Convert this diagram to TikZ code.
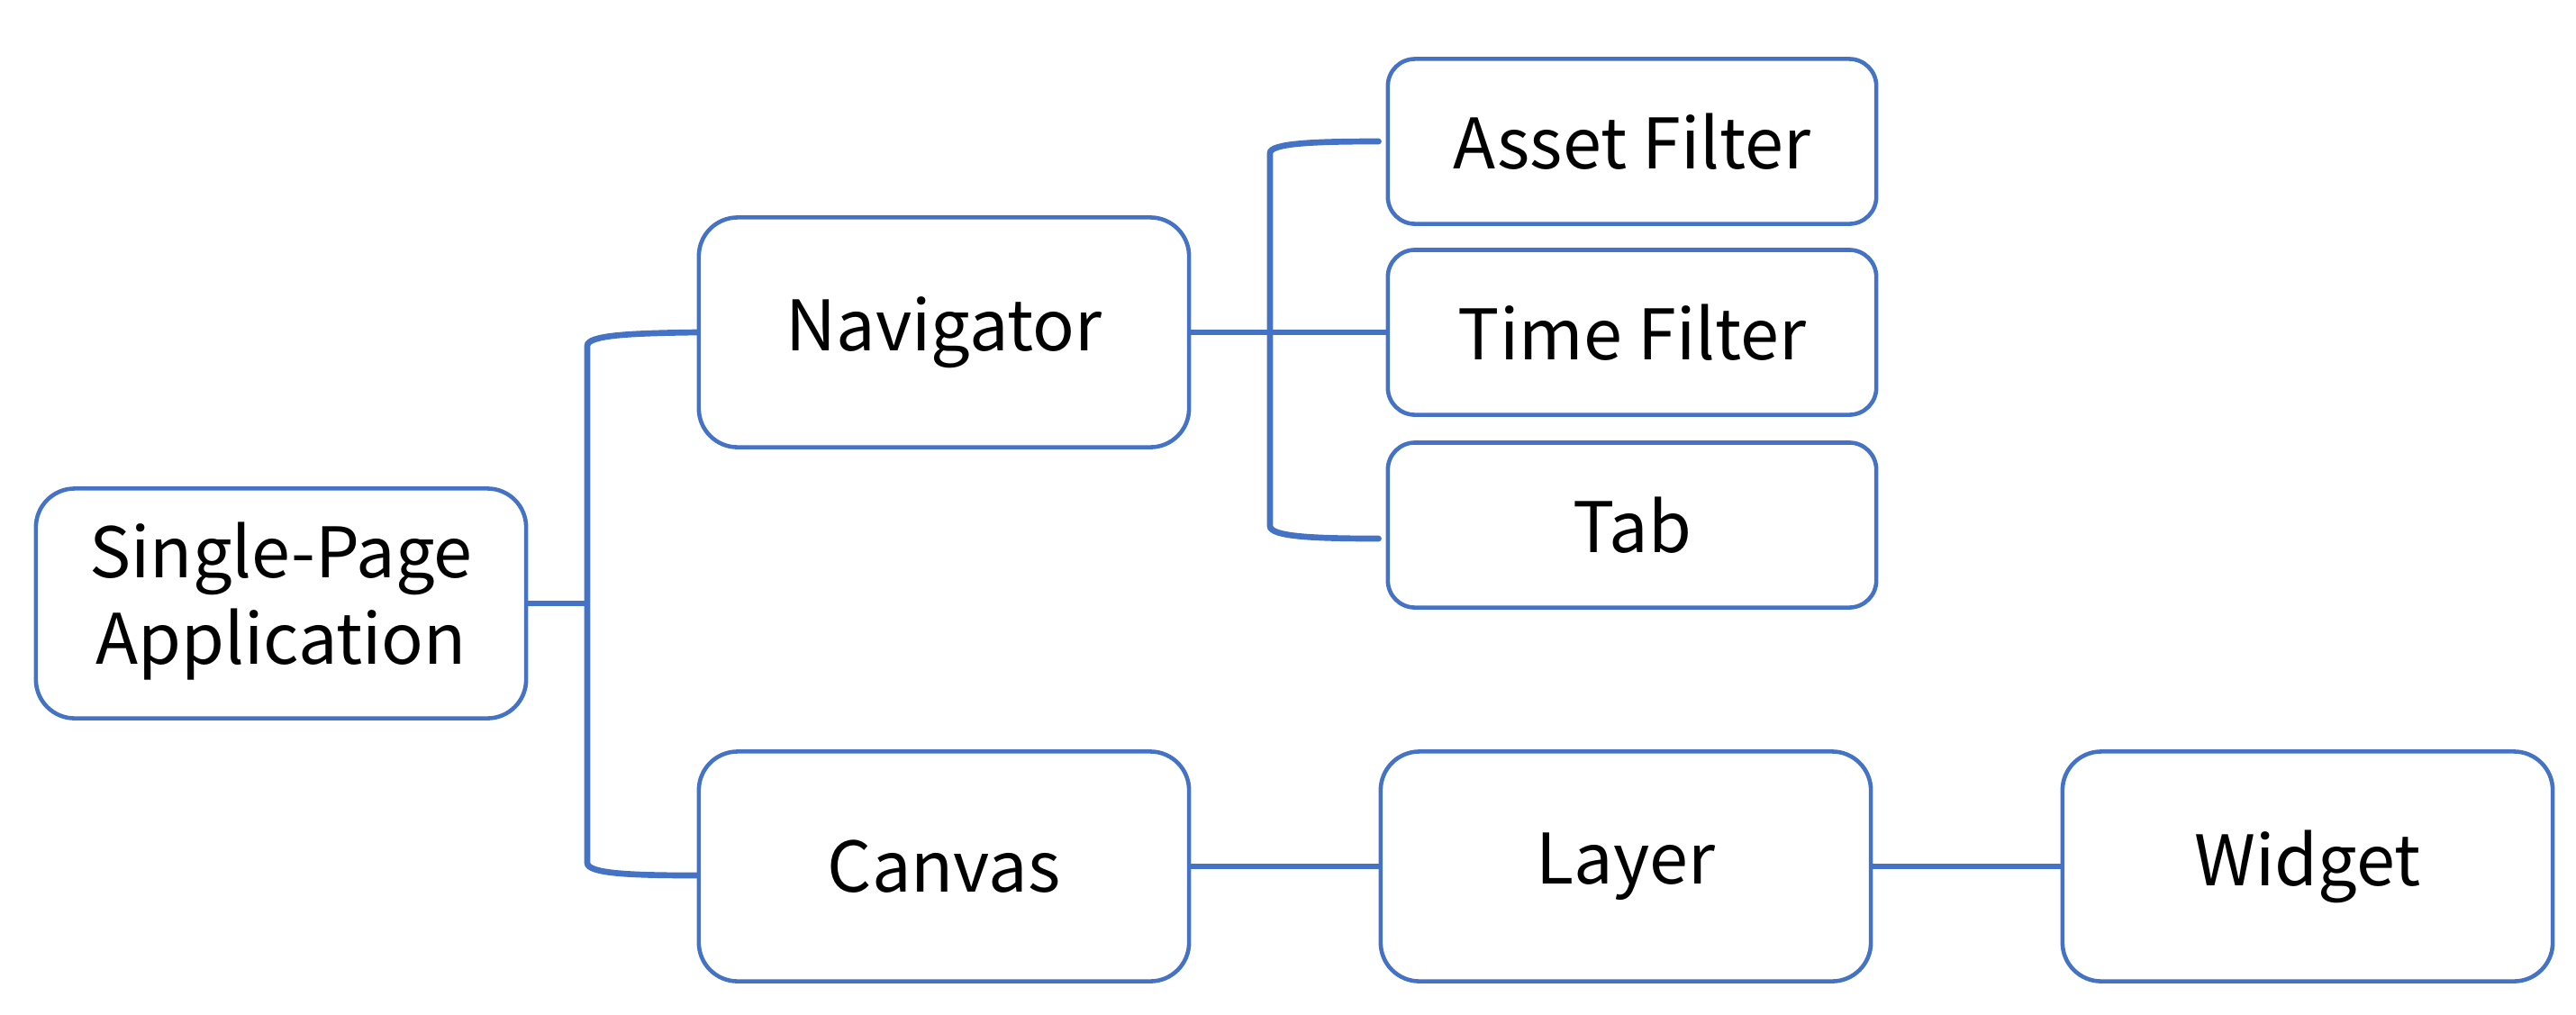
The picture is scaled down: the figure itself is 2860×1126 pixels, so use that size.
\documentclass[tikz,border=0pt]{standalone}
\usepackage{fontspec}
\setmainfont{Noto Sans CJK SC}
\usetikzlibrary{calc,positioning}
\definecolor{primary}{RGB}{68,114,196}

\begin{document}
\begin{tikzpicture}[x=0.01cm, y=-0.01cm,
    box/.style={draw=primary, line width=1.3pt, rounded corners=0.43cm,
      minimum width=5.44cm, minimum height=2.55cm, inner sep=0pt,
      align=center, font=\fontsize{22}{27.5}\selectfont},
    smallbox/.style={box, rounded corners=0.3cm, minimum width=5.42cm, minimum height=1.83cm},
    link/.style={draw=primary, line width=1.5pt},
    bracket/.style={draw=primary, line width=1.9pt, line cap=round}]
    \useasboundingbox (0,0) rectangle (2860,1126);
    % boxes
    \node[box] (spa) at (312,670) {\raisebox{-0.1cm}{\begin{tabular}{@{}c@{}}Single-Page\\Application\end{tabular}}};
    \node[box] (nav) at (1048,369) {Navigator};
    \node[box] (canvas) at (1048,962) {Canvas};
    \node[box] (layer) at (1805,962) {Layer};
    \node[box] (widget) at (2562,962) {Widget};
    \foreach \n/\y/\label in {asset/157/Asset Filter,timef/369/Time Filter,tab/583/Tab} {
      \node[smallbox] (\n) at (1812,\y) {\label};
    }
    % connectors
    \coordinate (spaj) at (652,670);
    \draw[link] (spa.east) -- (spaj);
    \draw[bracket] (nav.west) .. controls (700,370) and (652,372) .. (652,384)
      -- (652,958) .. controls (652,970) and (700,972) .. ($(canvas.west)+(0,10)$);
    \draw[link] (nav.east) -- (timef.west);
    \draw[bracket] ($(asset.west)+(-8,0)$) .. controls (1460,157) and (1410,159) .. (1410,170)
      -- (1410,584) .. controls (1410,596) and (1460,598) .. ($(tab.west)+(-8,15)$);
    \draw[link] (canvas.east) -- (layer.west);
    \draw[link] (layer.east) -- (widget.west);
  \end{tikzpicture}
\end{document}
